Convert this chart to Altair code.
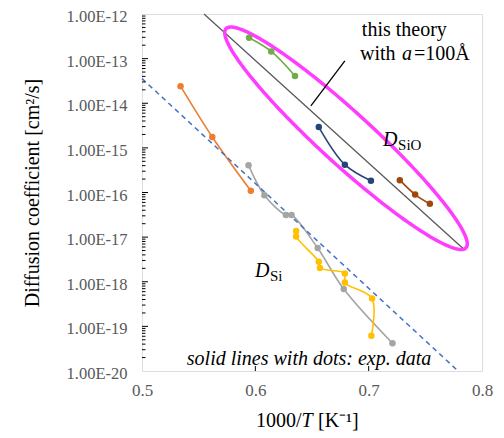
import altair as alt
import numpy as np
import pandas as pd

# ---------------- data ----------------
green_x = [0.5945, 0.614, 0.635]
green_y = [2.93e-13, 1.45e-13, 4.1e-14]
navy_x = [0.656, 0.679, 0.702]
navy_y = [2.93e-15, 4.2e-16, 1.83e-16]
brown_x = [0.7275, 0.741, 0.754]
brown_y = [1.89e-16, 9.0e-17, 5.57e-17]
orange_x = [0.534, 0.562, 0.596]
orange_y = [2.41e-14, 1.75e-15, 1.09e-16]
gray_x = [0.594, 0.608, 0.627, 0.632, 0.655, 0.678, 0.721]
gray_y = [4.1e-16, 8.7e-17, 3.12e-17, 3.12e-17, 5.7e-18, 6.85e-19, 4.19e-20]
yellow_x = [0.636, 0.636, 0.656, 0.657, 0.679, 0.679, 0.703, 0.7024]
yellow_y = [1.38e-17, 1.03e-17, 2.81e-18, 2.03e-18, 1.54e-18, 9.6e-19, 4.2e-19, 6.2e-20]

theory_x = [0.5547, 0.7833]
theory_y = [1e-12, 5.53e-18]
dashed_x = [0.5, 0.7789]
dashed_y = [3.57e-14, 1e-20]
leader_x = [0.649, 0.679]
leader_y = [8.75e-15, 8.9e-14]

# ellipse annotation: centre (data), semi-axes (px), rotation (deg)
ell_cx, ell_clogy = 0.68, -14.785
ell_a, ell_b, ell_angle = 162.5, 26.0, 42.4

x_ticks = [0.5, 0.6, 0.7, 0.8]
y_ticks = [1e-12, 1e-13, 1e-14, 1e-15, 1e-16, 1e-17, 1e-18, 1e-19, 1e-20]

names = ["green", "navy", "brown", "orange", "gray", "yellow"]
colors = ["#70AD47", "#264478", "#9E480E", "#ED7D31", "#A5A5A5", "#FFC000"]

W, H = 340, 357
FONT = "Liberation Serif"

rows = []
for name, xs_, ys_ in zip(names, [green_x, navy_x, brown_x, orange_x, gray_x, yellow_x],
                          [green_y, navy_y, brown_y, orange_y, gray_y, yellow_y]):
    for i, (x, y) in enumerate(zip(xs_, ys_)):
        rows.append(dict(series=name, x=x, y=y, order=i))
df = pd.DataFrame(rows)

xsc = alt.Scale(domain=[0.5, 0.8], nice=False, zero=False)
ysc = alt.Scale(type="log", domain=[1e-20, 1e-12], nice=False)
csc = alt.Scale(domain=names, range=colors)

xaxis = alt.Axis(values=x_ticks, format=".1f", labelFont=FONT, labelFontSize=17,
                 labelColor="#595959", ticks=False, tickSize=0, domain=False, grid=False,
                 labelFlush=False, labelPadding=11, title=None)
yaxis = alt.Axis(values=y_ticks, labelExpr="'1.00E-' + round(-log(datum.value)/LN10)",
                 labelFont=FONT, labelFontSize=16.5, labelColor="#595959", ticks=False,
                 tickSize=0, domain=False, grid=False, labelPadding=15, labelOffset=2.5,
                 labelFlush=False,
                 title="Diffusion coefficient [cm\u00b2/s]", titleFont=FONT, titleFontSize=20,
                 titleFontWeight="normal", titleColor="black", titlePadding=24)

base_x = alt.X("x:Q", scale=xsc, axis=xaxis)
base_y = alt.Y("y:Q", scale=ysc, axis=yaxis)

def seg(xs_, ys_, color, width, dash=None):
    d = pd.DataFrame({"x": xs_, "y": ys_, "o": list(range(len(xs_)))})
    kw = dict(color=color, strokeWidth=width)
    if dash:
        kw["strokeDash"] = dash
    return alt.Chart(d).mark_line(**kw).encode(
        x=alt.X("x:Q", scale=xsc), y=alt.Y("y:Q", scale=ysc), order="o:Q")

theory = seg(theory_x, theory_y, "#595959", 1.3)
dashed = seg(dashed_x, dashed_y, "#4472C4", 1.5, [5, 4])
leader = seg(leader_x, leader_y, "black", 1.3)

# ellipse outline
t = np.linspace(0, 2 * np.pi, 241)
th = np.deg2rad(ell_angle)
px = ell_a * np.cos(t) * np.cos(th) - ell_b * np.sin(t) * np.sin(th)
py = ell_a * np.cos(t) * np.sin(th) + ell_b * np.sin(t) * np.cos(th)
ell = pd.DataFrame({"x": ell_cx + px / (W / 0.3),
                    "y": 10 ** (ell_clogy - py / (H / 8.0)),
                    "o": np.arange(len(t))})
ellipse = alt.Chart(ell).mark_line(color="#FF3DFF", strokeWidth=3.5).encode(
    x=alt.X("x:Q", scale=xsc), y=alt.Y("y:Q", scale=ysc), order="o:Q")

lines = alt.Chart(df).mark_line(strokeWidth=1.6, interpolate="catmull-rom").encode(
    x=base_x, y=base_y,
    color=alt.Color("series:N", scale=csc, legend=None),
    detail="series:N", order="order:Q")
points = alt.Chart(df).mark_circle(size=42, opacity=1).encode(
    x=alt.X("x:Q", scale=xsc), y=alt.Y("y:Q", scale=ysc),
    color=alt.Color("series:N", scale=csc, legend=None))

# inward ticks
major_df = pd.DataFrame({"y": y_ticks[1:-1]})
minor_vals = [m * 10.0 ** k for k in range(-20, -12) for m in range(2, 10)]
minor_df = pd.DataFrame({"y": minor_vals})
ymaj = alt.Chart(major_df).mark_rule(color="black", strokeWidth=1).encode(
    y=alt.Y("y:Q", scale=ysc), x=alt.value(0), x2=alt.value(6))
ymin = alt.Chart(minor_df).mark_rule(color="black", strokeWidth=1).encode(
    y=alt.Y("y:Q", scale=ysc), x=alt.value(0), x2=alt.value(3.5))
xt_df = pd.DataFrame({"x": x_ticks[1:-1]})
xtick = alt.Chart(xt_df).mark_rule(color="black", strokeWidth=1).encode(
    x=alt.X("x:Q", scale=xsc), y=alt.value(H), y2=alt.value(H - 5))

# text annotations
def txt(text, x, y, size=20, style="normal", align="left", dx=0, dy=0):
    d = pd.DataFrame({"x": [x], "y": [y], "t": [text]})
    return alt.Chart(d).mark_text(font=FONT, fontSize=size, fontStyle=style, align=align,
                                  baseline="alphabetic", dx=dx, dy=dy, color="black").encode(
        x=alt.X("x:Q", scale=xsc), y=alt.Y("y:Q", scale=ysc), text="t:N")

t1 = txt("this theory", 0.694, 10 ** -12.49)
t2 = txt("with", 0.6924, 10 ** -13.029)
t3 = txt("a", 0.6924, 10 ** -13.029, style="italic", dx=42)
t4 = txt("=100Å", 0.6924, 10 ** -13.029, dx=54)
d1 = txt("D", 0.7127, 10 ** -14.953, style="italic")
d2 = txt("SiO", 0.7127, 10 ** -14.953, size=15, dx=15, dy=4)
s1 = txt("D", 0.5997, 10 ** -17.884, style="italic")
s2 = txt("Si", 0.5997, 10 ** -17.884, size=15, dx=15, dy=4)
note = txt("solid lines with dots: exp. data", 0.6474, 10 ** -19.875, style="italic",
           align="center")
# x-axis title (with italic T)
XT_X, XT_Y = 0.6006, 10 ** -21.25
xt1 = txt("1000/", XT_X, XT_Y)
xt2 = txt("T", XT_X, XT_Y, style="italic", dx=45.5)
xt3 = txt("[K\u207b\u00b9]", XT_X, XT_Y, dx=62)

chart = alt.layer(lines, theory, dashed, ellipse, leader, points, ymaj, ymin, xtick,
                  t1, t2, t3, t4, d1, d2, s1, s2, note, xt1, xt2, xt3).properties(
    width=W, height=H,
    autosize=alt.AutoSizeParams(type="none"),
    padding={"left": 134, "top": 6, "right": 14, "bottom": 66},
).configure_view(stroke="black", strokeWidth=1).configure(background="white")

chart.save("out.html", embed_options={"renderer": "svg", "actions": False})
